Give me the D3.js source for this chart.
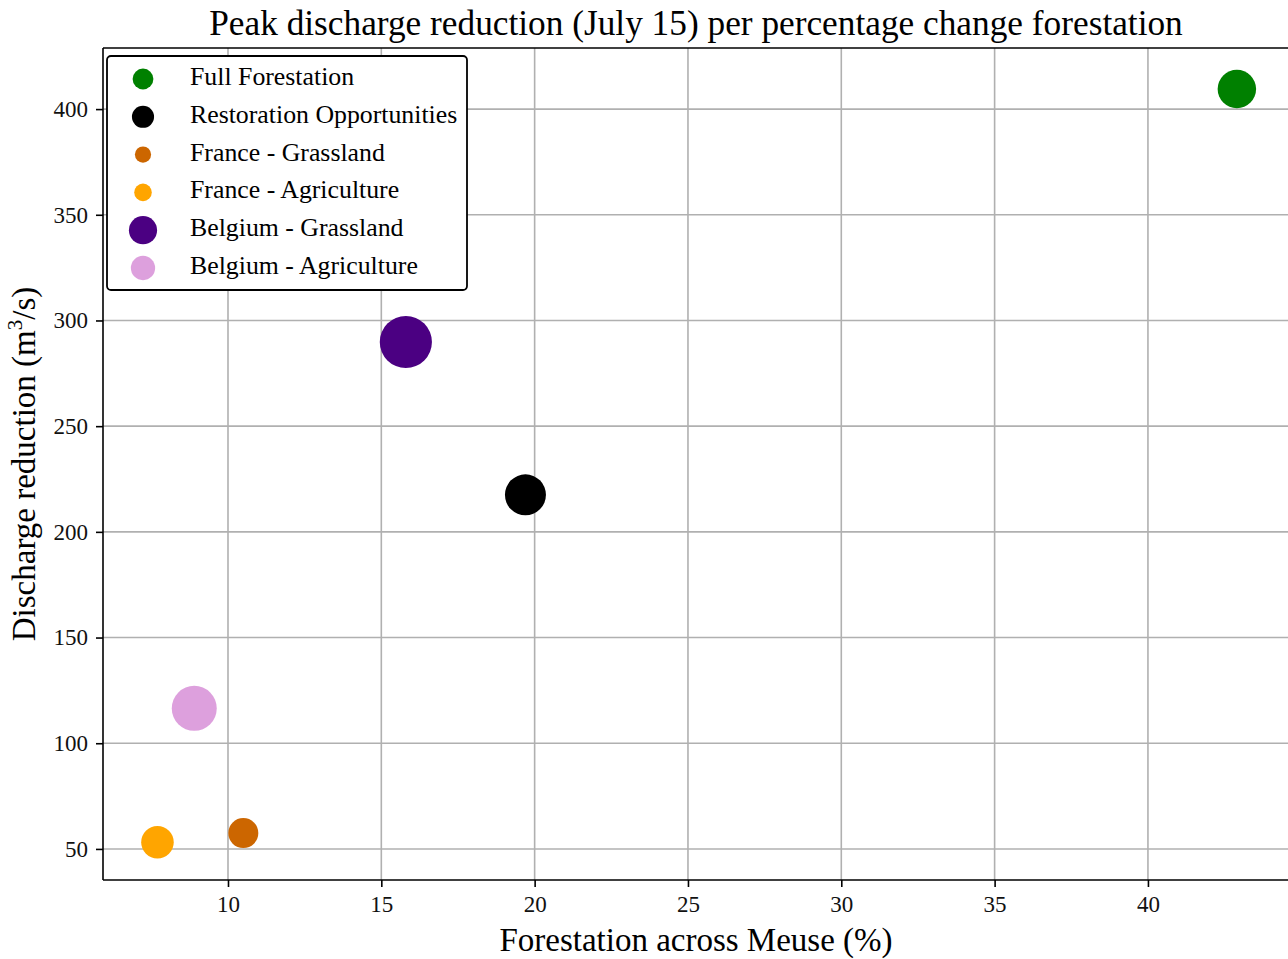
<!DOCTYPE html>
<html><head><meta charset="utf-8">
<script src="https://cdn.jsdelivr.net/npm/d3@7"></script>
<style>
html,body{margin:0;padding:0;background:#fff;}
svg{display:block;font-family:"Liberation Serif","DejaVu Serif",serif;}
</style></head>
<body>
<svg id="chart" width="1288" height="959"></svg>
<script>
const categories = ["Full Forestation","Restoration Opportunities","France - Grassland","France - Agriculture","Belgium - Grassland","Belgium - Agriculture"];
const forestation = [42.9, 19.7, 10.5, 7.7, 15.8, 8.9];
const reduction = [409.5, 217.5, 57.5, 53.2, 289.8, 116.5];
const markerSize = [370, 420, 225, 265, 680, 506];
const colors = ["#008000","#000000","#cc6600","#ffa500","#4b0082","#dda0dd"];
const xTicks = [10,15,20,25,30,35,40];
const yTicks = [50,100,150,200,250,300,350,400];

const svg = d3.select("#chart");
const m = {left:103, top:48, right:1289, bottom:880};

const x = d3.scaleLinear().domain([5.924, 44.6]).range([m.left, m.right]);
const y = d3.scaleLinear().domain([35.3, 428.9]).range([m.bottom, m.top]);
const r = d3.scaleSqrt().domain([0,1]).range([0,1]);

// grid
const g = svg.append("g");
g.selectAll(".gx").data(xTicks).enter().append("line")
  .attr("x1", d=>x(d)).attr("x2", d=>x(d)).attr("y1", m.top).attr("y2", m.bottom)
  .attr("stroke", "#b0b0b0").attr("stroke-width", 1.6);
g.selectAll(".gy").data(yTicks).enter().append("line")
  .attr("y1", d=>y(d)).attr("y2", d=>y(d)).attr("x1", m.left).attr("x2", m.right)
  .attr("stroke", "#b0b0b0").attr("stroke-width", 1.6);

// points
svg.append("g").selectAll("circle").data(categories).enter().append("circle")
  .attr("cx", (d,i)=>x(forestation[i])).attr("cy", (d,i)=>y(reduction[i]))
  .attr("r", (d,i)=>r(markerSize[i])).attr("fill", (d,i)=>colors[i]);

// axes
const xAxis = d3.axisBottom(x).tickValues(xTicks).tickSize(7).tickPadding(9).tickFormat(d3.format("d"));
const yAxis = d3.axisLeft(y).tickValues(yTicks).tickSize(7).tickPadding(8).tickFormat(d3.format("d"));
const gx = svg.append("g").attr("transform", `translate(0,${m.bottom})`).call(xAxis);
const gy = svg.append("g").attr("transform", `translate(${m.left},0)`).call(yAxis);
[gx, gy].forEach(a=>{
  a.select(".domain").remove();
  a.selectAll(".tick line").attr("stroke","#000").attr("stroke-width",1.6);
  a.selectAll(".tick text").attr("font-family","Liberation Serif, serif").attr("font-size",23).attr("fill","#111");
});

// spines
svg.append("line").attr("x1", m.left).attr("x2", m.left).attr("y1", m.top).attr("y2", m.bottom).attr("stroke","#000").attr("stroke-width",1.6);
svg.append("line").attr("x1", m.left).attr("x2", m.right).attr("y1", m.bottom).attr("y2", m.bottom).attr("stroke","#000").attr("stroke-width",1.6);
svg.append("line").attr("x1", m.left).attr("x2", m.right).attr("y1", m.top).attr("y2", m.top).attr("stroke","#000").attr("stroke-width",1.6);

// title
svg.append("text").attr("x", (m.left+m.right)/2).attr("y", 35).attr("text-anchor","middle")
  .attr("font-size", 35.3).attr("fill","#000").text("Peak discharge reduction (July 15) per percentage change forestation");
// x label
svg.append("text").attr("x", (m.left+m.right)/2).attr("y", 951).attr("text-anchor","middle")
  .attr("font-size", 33).attr("fill","#000").text("Forestation across Meuse (%)");
// y label
const yl = svg.append("text").attr("transform", `translate(35,${(m.top+m.bottom)/2}) rotate(-90)`).attr("text-anchor","middle")
  .attr("font-size", 33).attr("fill","#000");
yl.append("tspan").text("Discharge reduction (m");
yl.append("tspan").attr("font-size", 21).attr("dy", -13).text("3");
yl.append("tspan").attr("dy", 13).text("/s)");

// legend
const lg = svg.append("g");
lg.append("rect").attr("x", 107).attr("y", 56).attr("width", 360).attr("height", 234).attr("rx", 4)
  .attr("fill","#fff").attr("stroke","#000").attr("stroke-width",1.8);
const rowH = 37.8;
categories.forEach((c,i)=>{
  const cy = 79 + i*rowH;
  lg.append("circle").attr("cx", 143).attr("cy", cy).attr("r", r(markerSize[i])*0.54).attr("fill", colors[i]);
  lg.append("text").attr("x", 190).attr("y", cy+6).attr("font-size", 25.8).attr("fill","#000").text(c);
});
</script>
</body></html>
